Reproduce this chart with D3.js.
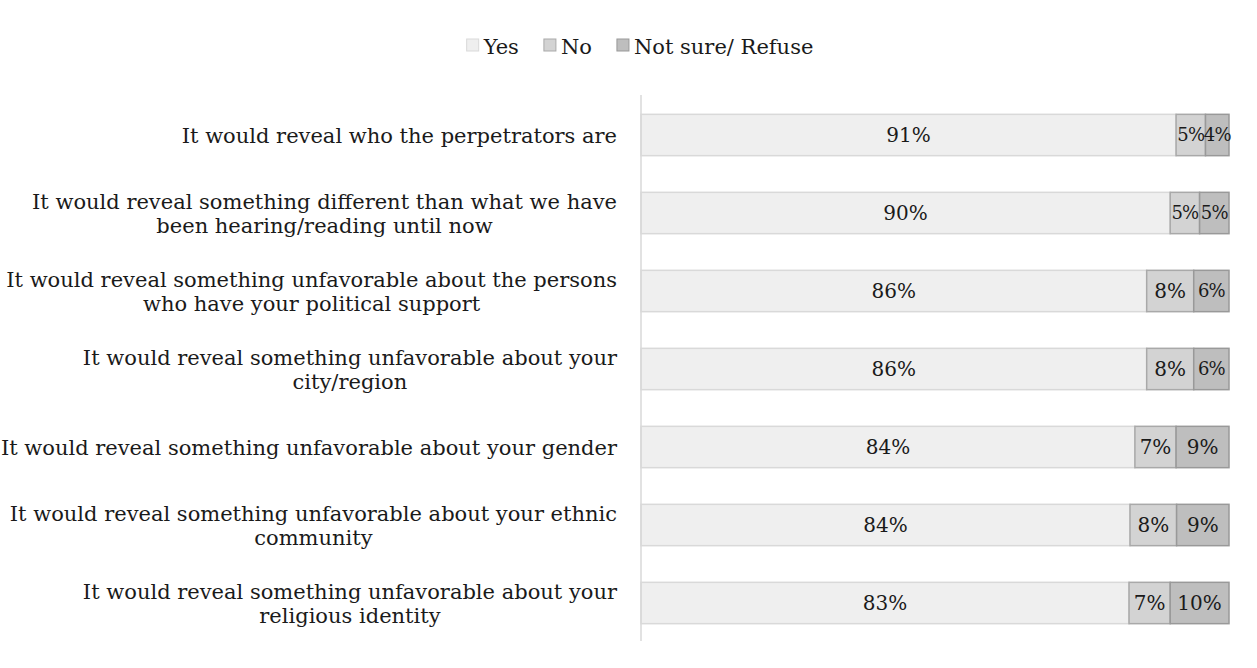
<!DOCTYPE html>
<html>
<head>
<meta charset="utf-8">
<script src="https://cdn.jsdelivr.net/npm/d3@7"></script>
<style>
  html, body { margin: 0; padding: 0; background: #fff; }
  svg { display: block; font-family: "DejaVu Serif", serif; }
</style>
</head>
<body>
<svg id="chart" width="1257" height="668"></svg>
<script>
// Statements (wrapped as they appear on the axis)
const categories = [
  ["It would reveal who the perpetrators are"],
  ["It would reveal something different than what we have", "been hearing/reading until now"],
  ["It would reveal something unfavorable about the persons", "who have your political support"],
  ["It would reveal something unfavorable about your", "city/region"],
  ["It would reveal something unfavorable about your gender"],
  ["It would reveal something unfavorable about your ethnic", "community"],
  ["It would reveal something unfavorable about your", "religious identity"]
];
const seriesNames = ["Yes", "No", "Not sure/ Refuse"];
const yesValues     = [91, 90, 86, 86, 84, 84, 83];
const noValues      = [5, 5, 8, 8, 7, 8, 7];
const notSureValues = [4, 5, 6, 6, 9, 9, 10];

const fills   = ["#efefef", "#d3d3d3", "#bebebe"];
const strokes = ["#d9d9d9", "#a9a9a9", "#999999"];

const svg = d3.select("#chart");
const fontSize = 21;

// 100% stacked: each row is scaled to its own total
const x = d3.scaleLinear().domain([0, 1]).range([641, 1229]);
const y = d3.scaleBand().domain(d3.range(categories.length)).range([96, 642]).paddingInner(0.47).paddingOuter(0.235);

const stack = categories.map((c, i) => {
  const vals = [yesValues[i], noValues[i], notSureValues[i]];
  const total = d3.sum(vals);
  let acc = 0;
  return vals.map((v, k) => {
    const s = { row: i, k, v, x0: acc / total, x1: (acc + v) / total };
    acc += v;
    return s;
  });
});

// bars
const g = svg.append("g");
stack.flat().forEach(s => {
  g.append("rect")
    .attr("x", x(s.x0))
    .attr("y", y(s.row))
    .attr("width", x(s.x1) - x(s.x0))
    .attr("height", y.bandwidth())
    .attr("fill", fills[s.k])
    .attr("stroke", strokes[s.k])
    .attr("stroke-width", 1.5);
});
// value labels (narrow segments get slightly tighter lettering)
stack.flat().forEach(s => {
  const narrow = (x(s.x1) - x(s.x0)) < 36;
  g.append("text")
    .attr("x", (x(s.x0) + x(s.x1)) / 2)
    .attr("y", y(s.row) + y.bandwidth() / 2)
    .attr("dy", "0.36em")
    .attr("text-anchor", "middle")
    .attr("font-size", narrow ? 18 : 20)
    .attr("letter-spacing", narrow ? -0.8 : 0)
    .attr("fill", "#1a1a1a")
    .text(s.v + "%");
});

// vertical axis line
svg.append("line")
  .attr("x1", 641).attr("x2", 641)
  .attr("y1", 95).attr("y2", 641)
  .attr("stroke", "#d9d9d9").attr("stroke-width", 1.5);

// category labels: block right-aligned, lines centred within the block
const lineH = 24;
categories.forEach((lines, i) => {
  const t = svg.append("text")
    .attr("font-size", fontSize)
    .attr("fill", "#1a1a1a")
    .attr("text-anchor", "middle");
  const cy = y(i) + y.bandwidth() / 2;
  const spans = lines.map((ln, j) => t.append("tspan")
    .attr("y", cy + (j - (lines.length - 1) / 2) * lineH)
    .attr("dy", "0.36em")
    .text(ln));
  const w = d3.max(spans, s => s.node().getComputedTextLength());
  spans.forEach(s => s.attr("x", 617 - w / 2));
});

// legend
const legend = svg.append("g");
let lx = 0;
seriesNames.forEach((name, k) => {
  const it = legend.append("g").attr("transform", `translate(${lx},0)`);
  it.append("rect").attr("x", 0).attr("y", -7).attr("width", 12).attr("height", 12)
    .attr("fill", fills[k]).attr("stroke", strokes[k]);
  const tx = it.append("text").attr("x", 17).attr("dy", "0.36em")
    .attr("font-size", fontSize).attr("fill", "#1a1a1a").text(name);
  lx += 17 + tx.node().getComputedTextLength() + 25;
});
const totalW = lx - 25;
legend.attr("transform", `translate(${640 - totalW / 2},46)`);
</script>
</body>
</html>
